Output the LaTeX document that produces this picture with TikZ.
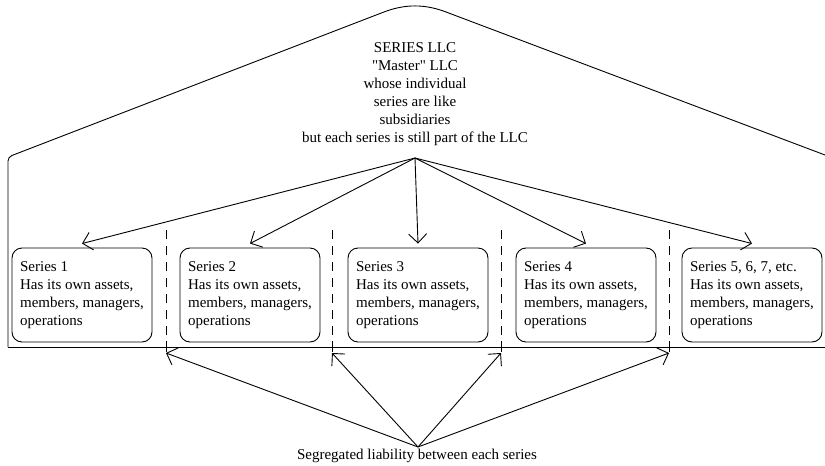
\documentclass[tikz,border=0pt]{standalone}
\usepackage{fontspec}
\setmainfont{Liberation Serif}
\usetikzlibrary{arrows.meta}
\begin{document}
\begin{tikzpicture}[x=1pt,y=-1pt,
  line width=0.9pt,
  every node/.style={font=\fontsize{15}{18}\selectfont},
  box/.style={draw, rounded corners=10pt, minimum width=140pt, minimum height=94pt, align=left, inner sep=2pt},
  arr/.style={-{Straight Barb[length=9pt,width=18pt]}},
  sep/.style={dash pattern=on 9pt off 7pt},
]
\useasboundingbox (0,0) rectangle (825,466);
% house outline
\draw[rounded corners=4pt] (8,347) -- (8,157) -- (380,13.5)
  .. controls (405,3.9) and (425,3.9) .. (450,13.5) -- (825,155);
\draw (8,347) -- (825,347);
% title
\node[align=center, inner sep=0pt] (top) at (415,94) {SERIES LLC\\\textquotedbl Master\textquotedbl\ LLC\\whose individual\\series are like\\subsidiaries\\but each series is still part of the LLC};
\coordinate (hub) at (415,158);
% boxes
\node[box] (b1) at (82,295) {Series 1\\Has its own assets,\\members, managers,\\operations};
\node[box] (b2) at (250,295) {Series 2\\Has its own assets,\\members, managers,\\operations};
\node[box] (b3) at (418,295) {Series 3\\Has its own assets,\\members, managers,\\operations};
\node[box] (b4) at (586,295) {Series 4\\Has its own assets,\\members, managers,\\operations};
\node[box] (b5) at (752,295) {Series 5, 6, 7, etc.\\Has its own assets,\\members, managers,\\operations};
% arrows from master
\foreach \b in {b1,b2,b3,b4,b5}
  \draw[arr] (hub) -- ([yshift=4pt]\b.north);
% separators
\foreach \x/\n in {166/d1,332/d2,501/d3,669/d4}{
  \draw[sep] (\x,230) -- (\x,352);
  \draw (\x,341) -- (\x,352);
  \coordinate (\n) at (\x,353);
}
% segregated liability
\node[inner sep=0pt] (seg) at (417,456) {Segregated liability between each series};
\coordinate (hub2) at (418,447);
\foreach \d in {d1,d2,d3,d4}
  \draw[arr] (hub2) -- (\d);
\end{tikzpicture}
\end{document}
